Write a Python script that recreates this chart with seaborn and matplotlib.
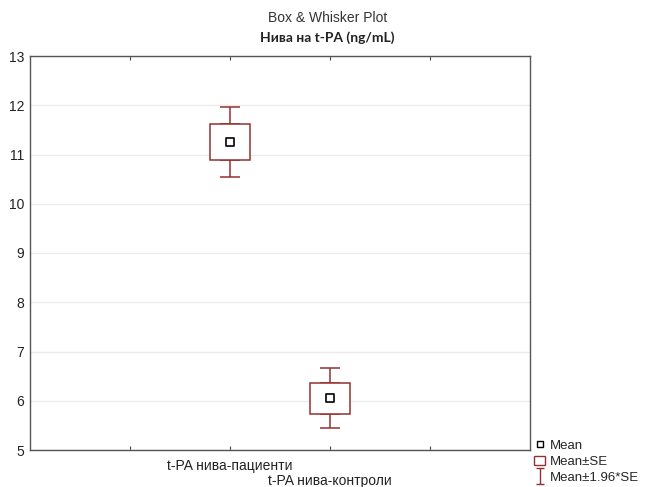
import matplotlib
matplotlib.use("Agg")
import matplotlib.pyplot as plt
import seaborn as sns
import pandas as pd
import numpy as np
from matplotlib.patches import Rectangle
from matplotlib.lines import Line2D
from matplotlib.path import Path

categories = ["t-PA нива-пациенти", "t-PA нива-контроли"]
means = [11.25, 6.05]
se = [0.36, 0.31]
positions = [2, 3]
yticks = [5, 6, 7, 8, 9, 10, 11, 12, 13]

df = pd.DataFrame({"group": categories, "pos": positions, "mean": means, "se": se})
df["ci"] = 1.96 * df["se"]

sns.set_theme(style="white")
plt.rcParams["font.family"] = ["Liberation Sans", "DejaVu Sans"]

red = "#943030"
fig = plt.figure(figsize=(6.47, 4.87), dpi=100)
ax = fig.add_axes([30/647, 1 - 450/487, 500/647, 394/487])

# boxes (mean ± SE)
ax.bar(df["pos"], 2 * df["se"], bottom=df["mean"] - df["se"], width=0.4,
       facecolor="white", edgecolor=red, linewidth=1.1, zorder=3)
# whiskers (mean ± 1.96*SE)
for _, r in df.iterrows():
    ax.errorbar([r["pos"]], [r["mean"] + r["se"]], yerr=[[0], [r["ci"] - r["se"]]],
                fmt="none", ecolor=red, elinewidth=1.1, capsize=7.5, capthick=1.1, zorder=2)
    ax.errorbar([r["pos"]], [r["mean"] - r["se"]], yerr=[[r["ci"] - r["se"]], [0]],
                fmt="none", ecolor=red, elinewidth=1.1, capsize=7.5, capthick=1.1, zorder=2)
sns.scatterplot(data=df, x="pos", y="mean", marker="s", s=30, color="white",
                edgecolor="black", linewidth=1.2, ax=ax, zorder=4, legend=False)

ax.set_xlim(0, 5)
ax.set_ylim(5, 13)
ax.set_yticks(yticks)
ax.set_yticklabels([str(t) for t in yticks], fontsize=10)
ax.set_xticks([1, 2, 3, 4])
ax.set_xticklabels(["", "", "", ""])
ax.set_xlabel("")
ax.set_ylabel("")
ax.grid(axis="y", color="#ebebeb", linewidth=1, zorder=0)
ax.set_axisbelow(True)
ax.tick_params(axis="x", direction="in", length=3, top=True, bottom=True, color="#444444", width=0.8)
ax.tick_params(axis="y", direction="out", length=0, pad=4, labelcolor="#222222")
for s in ax.spines.values():
    s.set_color("#555555")
    s.set_linewidth(1)

# staggered category labels
label_y_px = [466, 481]
for p, lab, ypx in zip(positions, categories, label_y_px):
    ax.text(p, 0, lab, transform=ax.get_xaxis_transform(), ha="center", va="center",
            fontsize=10, color="#222222").set_y(-(ypx - 450) / 394)

fig.text(328/647, 1 - 18/487, "Box & Whisker Plot", ha="center", va="center",
         fontsize=10, color="#333333")
fig.text(327/647, 1 - 38/487, "Нива на t-PA (ng/mL)", ha="center", va="center",
         fontsize=10, fontweight="bold", family=["Lato", "DejaVu Sans"], color="#222222")

# legend
ibar = Path([(-0.5, 1), (0.5, 1), (0, 1), (0, -1), (-0.5, -1), (0.5, -1)],
            [Path.MOVETO, Path.LINETO, Path.MOVETO, Path.LINETO, Path.MOVETO, Path.LINETO])
handles = [
    Line2D([], [], marker="s", linestyle="none", markersize=5, markerfacecolor="white",
           markeredgecolor="black", markeredgewidth=1),
    Rectangle((0, 0), 1, 1, facecolor="white", edgecolor=red, linewidth=1),
    Line2D([], [], marker=ibar, linestyle="none", markersize=12, markeredgewidth=1,
           markerfacecolor="none", color=red),
]
leg = fig.legend(handles, ["Mean", "Mean±SE", "Mean±1.96*SE"], loc="upper left",
                 bbox_to_anchor=(533/647, 1 - 438/487), frameon=False, fontsize=9.5,
                 handlelength=0.8, handletextpad=0.4, labelspacing=0.3, borderpad=0.1,
                 borderaxespad=0)

fig.savefig("out.png", dpi=100)
